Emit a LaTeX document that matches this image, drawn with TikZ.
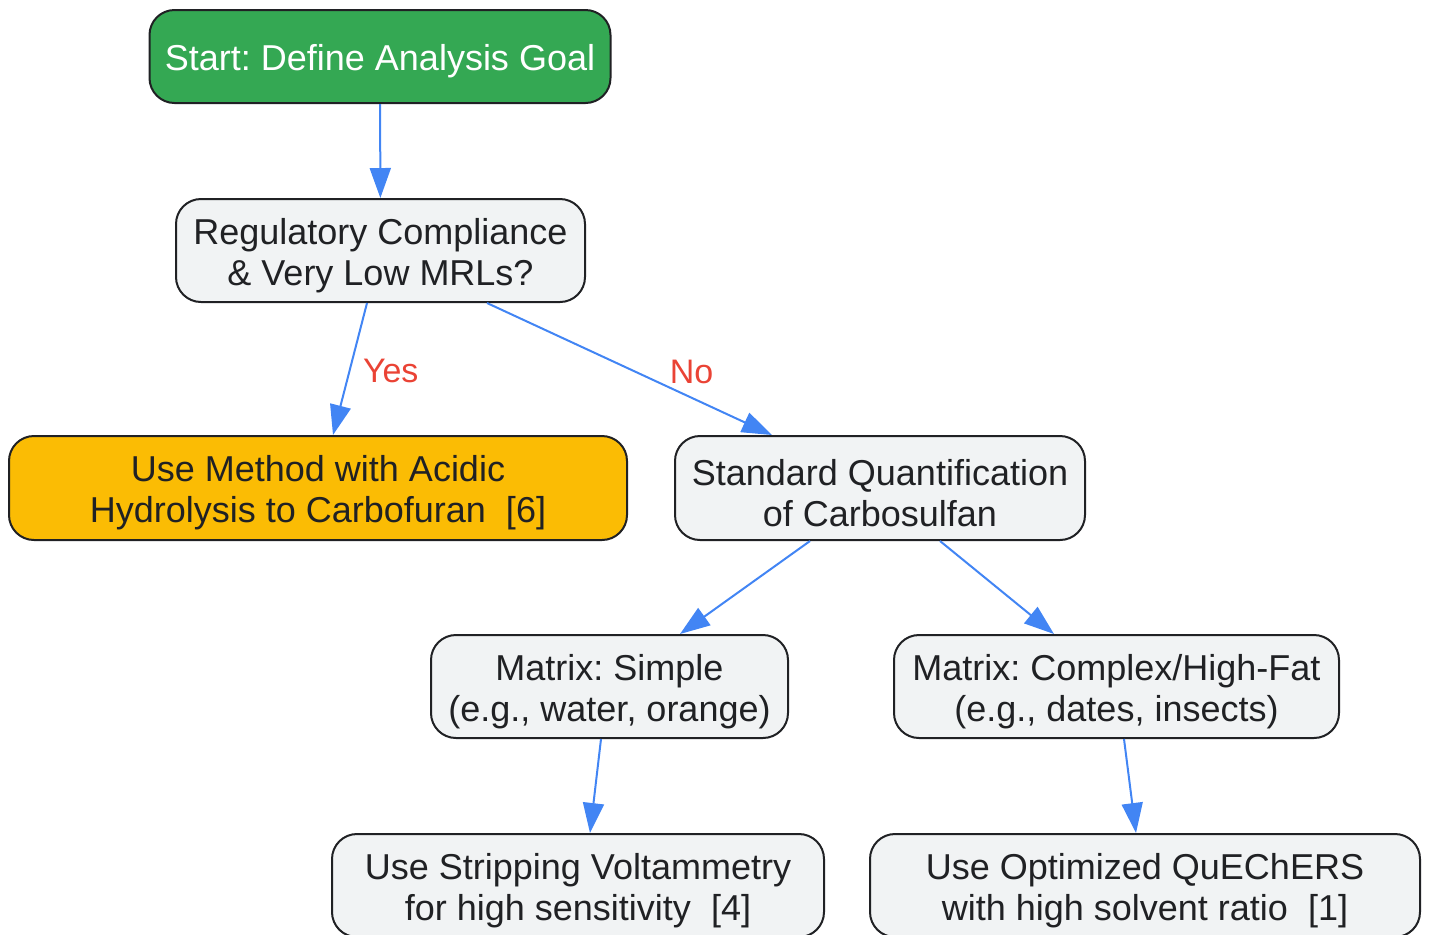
\documentclass[tikz,border=0pt]{standalone}
\usepackage{fontspec}
\setmainfont{Liberation Sans}
\usepackage{xcolor}
\usepackage{tikz}
\usetikzlibrary{arrows.meta}
\frenchspacing
\definecolor{gogreen}{HTML}{34A853}
\definecolor{goyellow}{HTML}{FBBC04}
\definecolor{gogray}{HTML}{F1F3F4}
\definecolor{goblue}{HTML}{4285F4}
\definecolor{gored}{HTML}{EA4335}
\definecolor{goink}{HTML}{202124}
\newcommand{\lift}{\rule{0pt}{18pt}}
\tikzstyle{arrow} = [line width=1pt,draw=goblue,-{Triangle[length=15pt,width=10.5pt]}]
\tikzstyle{box} = [draw=goink,line width=1pt,rectangle,rounded corners=12.5pt,align=center,fill=gogray,text=goink,inner sep=0pt,font=\fontsize{18}{20.5}\selectfont]
\tikzstyle{lab} = [text=gored,inner sep=0pt,font=\fontsize{17}{20}\selectfont]

\begin{document}
\begin{tikzpicture}[x=0.5pt,y=-0.5pt]
            \useasboundingbox (0,0) rectangle (1430,934);
            % basics
            \node[box,fill=gogreen,text=white,minimum width=230.5pt,minimum height=46.5pt] (a) at (380,56.5) {\lift Start: Define Analysis Goal};
            \node[box,minimum width=204.5pt,minimum height=51.5pt] (b) at (380.5,250.5) {\lift Regulatory Compliance \\ \& Very Low MRLs?};
            \node[box,fill=goyellow,minimum width=309pt,minimum height=52pt] (c1) at (318,488) {\lift Use Method with Acidic \\ Hydrolysis to Carbofuran~~[6]};
            \node[box,minimum width=205pt,minimum height=52pt] (c2) at (880,488) {\lift Standard Quantification \\ of Carbosulfan};
            \node[box,minimum width=178.5pt,minimum height=51.5pt] (d1) at (609.5,686.5) {\lift Matrix: Simple \\ (e.g., water, orange)};
            \node[box,minimum width=222.5pt,minimum height=51.5pt] (d2) at (1116.5,686.5) {\lift Matrix: Complex/High-Fat \\ (e.g., dates, insects)};
            \node[box,minimum width=246pt,minimum height=51.5pt] (e1) at (578,885.5) {\lift Use Stripping Voltammetry \\ for high sensitivity~~[4]};
            \node[box,minimum width=275pt,minimum height=51.5pt] (e2) at (1145,885.5) {\lift Use Optimized QuEChERS \\ with high solvent ratio~~[1]};
            \draw[arrow] (a) -- (b);
            \draw[arrow] ([xshift=-6.75pt]b.south) -- node[lab,anchor=west,xshift=6pt,yshift=-1pt] {Yes} ([xshift=7.5pt]c1.north);
            \draw[arrow] ([xshift=53.25pt]b.south) -- node[lab,xshift=31pt,yshift=-1.5pt] {No} ([xshift=-54pt]c2.north);
            \draw[arrow] ([xshift=-35pt]c2.south) -- ([xshift=35.25pt]d1.north);
            \draw[arrow] ([xshift=30pt]c2.south) -- ([xshift=-31.25pt]d2.north);
            \draw[arrow] ([xshift=-4.25pt]d1.south) -- ([xshift=6pt]e1.north);
            \draw[arrow] ([xshift=3.75pt]d2.south) -- ([xshift=-4.5pt]e2.north);
        \end{tikzpicture}
\end{document}
